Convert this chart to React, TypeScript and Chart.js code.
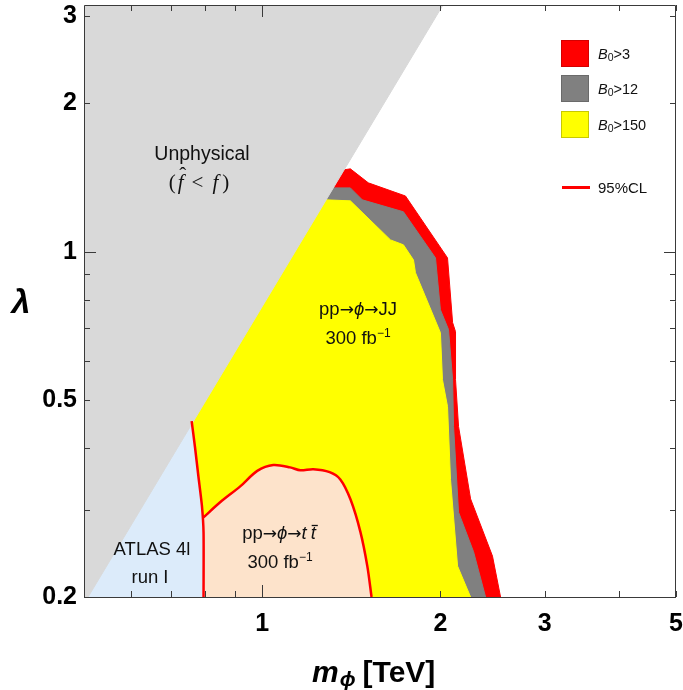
import React, { useEffect, useRef } from 'react';
import { Chart, registerables } from 'chart.js';

Chart.register(...registerables);

const SANS = '"Liberation Sans", Arial, Helvetica, sans-serif';
const ARROW = '"DejaVu Sans", "Liberation Sans", sans-serif';
const SERIF = '"Liberation Serif", "DejaVu Serif", serif';

// axis ranges and ticks
const xRange = [0.5, 5];
const yRange = [0.2, 3.16];
const xTicks = [0.6, 0.7, 0.8, 0.9, 1, 2, 3, 4, 5];
const xTickLabels = ['', '', '', '', '1', '2', '3', '', '5'];
const yTicks = [0.2, 0.3, 0.4, 0.5, 0.6, 0.7, 0.8, 0.9, 1, 2, 3];
const yTickLabels = ['0.2', '', '', '0.5', '', '', '', '', '1', '2', '3'];
const majorTicks = [1];

// unphysical region (f-hat < f)
const unphysX = [0.5, 0.508, 2.02, 0.5];
const unphysY = [0.2, 0.2, 3.16, 3.16];

// B0 > 3 region (red)
const b3X = [0.5, 2.527, 2.449, 2.249, 2.146, 2.121, 2.121, 2.097, 2.056, 1.746, 1.511, 1.409, 1.371, 0.5];
const b3Y = [0.2, 0.2, 0.242, 0.316, 0.443, 0.551, 0.689, 0.719, 0.972, 1.297, 1.379, 1.472, 1.465, 1.465];

// B0 > 12 region (gray)
const b12X = [0.5, 2.384, 2.275, 2.146, 2.105, 2.097, 2.064, 2.0, 1.962, 1.732, 1.476, 1.409, 1.318, 0.5];
const b12Y = [0.2, 0.2, 0.247, 0.297, 0.443, 0.551, 0.696, 0.763, 0.972, 1.205, 1.274, 1.347, 1.347, 1.347];

// B0 > 150 region (yellow)
const b150X = [0.5, 2.249, 2.138, 2.08, 2.056, 2.016, 2.0, 1.815, 1.801, 1.732, 1.647, 1.409, 1.282, 0.5];
const b150Y = [0.2, 0.2, 0.231, 0.346, 0.486, 0.551, 0.686, 0.907, 0.963, 1.033, 1.057, 1.268, 1.274, 1.274];

// ATLAS 4l run I 95% CL
const atlasX = [0.796, 0.796, 0.791, 0.78, 0.77, 0.76];
const atlasY = [0.2, 0.27, 0.306, 0.352, 0.402, 0.454];

// pp -> phi -> t tbar 95% CL
const ttX = [0.796, 0.849, 0.918, 0.981, 1.044, 1.115, 1.16, 1.22, 1.3, 1.355, 1.41, 1.465, 1.505, 1.53];
const ttY = [0.29, 0.311, 0.335, 0.36, 0.37, 0.366, 0.361, 0.363, 0.358, 0.346, 0.315, 0.271, 0.231, 0.2];

const pts = (xs: number[], ys: number[]) => xs.map((x, i) => ({ x, y: ys[i] }));

const fillDs = (label: string, data: { x: number; y: number }[], color: string, order: number) => ({
  label,
  data,
  showLine: true,
  fill: 'shape',
  backgroundColor: color,
  borderColor: color,
  borderWidth: 1,
  pointRadius: 0,
  tension: 0,
  order,
});

type Run = { t: string; f: string; dy?: number; gap?: number };

function drawRuns(ctx: CanvasRenderingContext2D, runs: Run[], x: number, y: number, align: 'left' | 'center') {
  let w = 0;
  for (const r of runs) {
    ctx.font = r.f;
    w += ctx.measureText(r.t).width + (r.gap || 0);
  }
  let cx = align === 'center' ? x - w / 2 : x;
  const pos: { x: number; w: number }[] = [];
  for (const r of runs) {
    ctx.font = r.f;
    const rw = ctx.measureText(r.t).width;
    ctx.fillText(r.t, cx, y + (r.dy || 0));
    pos.push({ x: cx, w: rw });
    cx += rw + (r.gap || 0);
  }
  return pos;
}

const decor = {
  id: 'decor',
  afterDraw(chart: any) {
    const { ctx, chartArea: a, scales } = chart;
    const xs = scales.x;
    const ys = scales.y;
    ctx.save();
    // frame
    ctx.strokeStyle = '#3a3a3a';
    ctx.lineWidth = 1;
    ctx.beginPath();
    ctx.rect(a.left + 0.5, a.top + 0.5, a.right - a.left - 1, a.bottom - a.top);
    ctx.stroke();
    // ticks (inward, all sides)
    ctx.beginPath();
    for (const v of xTicks) {
      const px = Math.round(xs.getPixelForValue(v)) + 0.5;
      const len = majorTicks.includes(v) ? 12 : 6;
      ctx.moveTo(px, a.bottom);
      ctx.lineTo(px, a.bottom - len);
      ctx.moveTo(px, a.top);
      ctx.lineTo(px, a.top + len);
    }
    for (const v of yTicks) {
      const py = Math.round(ys.getPixelForValue(v)) + 0.5;
      const len = majorTicks.includes(v) ? 12 : 6;
      ctx.moveTo(a.left, py);
      ctx.lineTo(a.left + len, py);
      ctx.moveTo(a.right, py);
      ctx.lineTo(a.right - len, py);
    }
    ctx.stroke();

    ctx.fillStyle = '#111';
    ctx.textBaseline = 'alphabetic';
    ctx.textAlign = 'left';

    // Unphysical label
    drawRuns(ctx, [{ t: 'Unphysical', f: `19.5px ${SANS}` }], 202, 160, 'center');
    const mf = `italic 21px ${SERIF}`;
    const mr = `21px ${SERIF}`;
    const p = drawRuns(
      ctx,
      [
        { t: '(', f: mr, gap: 2 },
        { t: 'f', f: mf, gap: 8 },
        { t: '<', f: mr, gap: 9 },
        { t: 'f', f: mf, gap: 4 },
        { t: ')', f: mr },
      ],
      199,
      189,
      'center'
    );
    // hat over first f
    ctx.font = mr;
    ctx.textAlign = 'center';
    ctx.fillText('ˆ', p[1].x + p[1].w / 2 + 2, 182);
    ctx.textAlign = 'left';

    const R = `18.5px ${SANS}`;
    const I = `italic 18.5px ${SANS}`;
    const A = `17px ${ARROW}`;
    const S = `12px ${SANS}`;
    drawRuns(
      ctx,
      [
        { t: 'pp', f: R },
        { t: '→', f: A },
        { t: 'ϕ', f: I },
        { t: '→', f: A },
        { t: 'JJ', f: R },
      ],
      358,
      315,
      'center'
    );
    drawRuns(ctx, [{ t: '300 fb', f: R }, { t: '−1', f: S, dy: -7 }], 358, 344, 'center');
    const q = drawRuns(
      ctx,
      [
        { t: 'pp', f: R },
        { t: '→', f: A },
        { t: 'ϕ', f: I },
        { t: '→', f: A },
        { t: 't', f: I, gap: 4 },
        { t: 't', f: I },
      ],
      279,
      539,
      'center'
    );
    ctx.strokeStyle = '#111';
    ctx.lineWidth = 1.3;
    ctx.beginPath();
    ctx.moveTo(q[5].x + 1, 525.5);
    ctx.lineTo(q[5].x + q[5].w + 2, 525.5);
    ctx.stroke();
    drawRuns(ctx, [{ t: '300 fb', f: R }, { t: '−1', f: S, dy: -7 }], 280, 568, 'center');
    drawRuns(ctx, [{ t: 'ATLAS 4l', f: R }], 152, 555, 'center');
    drawRuns(ctx, [{ t: 'run I', f: R }], 150, 583, 'center');

    // legend
    const boxes = [
      { y: 40, fill: '#ff0000', stroke: '#d40000', label: '>3', base: 59 },
      { y: 75, fill: '#808080', stroke: '#6a6a6a', label: '>12', base: 94 },
      { y: 111, fill: '#ffff00', stroke: '#c8c800', label: '>150', base: 130 },
    ];
    for (const b of boxes) {
      ctx.fillStyle = b.fill;
      ctx.fillRect(561, b.y, 28, 27);
      ctx.strokeStyle = b.stroke;
      ctx.lineWidth = 1;
      ctx.strokeRect(561.5, b.y + 0.5, 27, 26);
      ctx.fillStyle = '#111';
      drawRuns(
        ctx,
        [
          { t: 'B', f: `italic 14.5px ${SANS}` },
          { t: '0', f: `10.5px ${SANS}`, dy: 2 },
          { t: b.label, f: `14.5px ${SANS}` },
        ],
        598,
        b.base,
        'left'
      );
    }
    ctx.strokeStyle = '#ff0000';
    ctx.lineWidth = 3;
    ctx.beginPath();
    ctx.moveTo(562, 187.5);
    ctx.lineTo(590, 187.5);
    ctx.stroke();
    ctx.fillStyle = '#111';
    drawRuns(ctx, [{ t: '95%CL', f: `15px ${SANS}` }], 598, 193, 'left');

    // axis titles
    ctx.fillStyle = '#000';
    ctx.font = `italic bold 34px ${SANS}`;
    ctx.textAlign = 'center';
    ctx.fillText('λ', 21, 313);
    ctx.textAlign = 'left';
    drawRuns(
      ctx,
      [
        { t: 'm', f: `italic bold 30px ${SANS}`, gap: 1 },
        { t: 'ϕ', f: `italic bold 21px ${SANS}`, dy: 4, gap: 7 },
        { t: '[TeV]', f: `bold 30px ${SANS}` },
      ],
      312,
      682,
      'left'
    );
    ctx.restore();
  },
};

const findLabel = (vals: number[], labels: string[], v: number) => {
  const i = vals.findIndex((t) => Math.abs(t - v) < 1e-9);
  return i >= 0 ? labels[i] : '';
};

export default function App() {
  const ref = useRef<HTMLCanvasElement>(null);
  useEffect(() => {
    document.body.style.margin = '0';
    document.body.style.overflow = 'hidden';
    const tickFont = { family: SANS, size: 25, weight: 'bold' as const };
    const chart = new Chart(ref.current as HTMLCanvasElement, {
      type: 'scatter',
      data: {
        datasets: [
          {
            label: 'ATLAS 95%CL',
            data: pts(atlasX, atlasY),
            showLine: true,
            fill: false,
            borderColor: '#ff0000',
            borderWidth: 2.5,
            pointRadius: 0,
            tension: 0.2,
            order: 0,
          } as any,
          {
            label: 'ttbar 95%CL',
            data: pts(ttX, ttY),
            showLine: true,
            fill: false,
            borderColor: '#ff0000',
            borderWidth: 2.5,
            pointRadius: 0,
            tension: 0.3,
            order: 0,
          } as any,
          fillDs('Unphysical', pts(unphysX, unphysY), '#d9d9d9', 1) as any,
          fillDs('ttbar', [{ x: 0.796, y: 0.2 }, ...pts(ttX, ttY)], '#fde3cb', 2) as any,
          fillDs('ATLAS 4l', [{ x: 0.5, y: 0.2 }, ...pts(atlasX, atlasY), { x: 0.5, y: 0.454 }], '#dcebfa', 3) as any,
          fillDs('B0>150', pts(b150X, b150Y), '#ffff00', 4) as any,
          fillDs('B0>12', pts(b12X, b12Y), '#808080', 5) as any,
          fillDs('B0>3', pts(b3X, b3Y), '#ff0000', 6) as any,
        ],
      },
      options: {
        animation: false,
        responsive: false,
        devicePixelRatio: 1,
        layout: { padding: { top: 5, right: 7, left: 0, bottom: 0 } },
        plugins: { legend: { display: false }, tooltip: { enabled: false } },
        scales: {
          x: {
            type: 'logarithmic',
            min: xRange[0],
            max: xRange[1],
            afterBuildTicks: (s: any) => {
              s.ticks = xTicks.map((v) => ({ value: v }));
            },
            afterFit: (s: any) => {
              s.height = 93;
              s.paddingLeft = 0;
              s.paddingRight = 0;
            },
            grid: { display: false, drawTicks: false },
            border: { display: false },
            ticks: {
              autoSkip: false,
              maxRotation: 0,
              minRotation: 0,
              padding: 12,
              color: '#000',
              font: tickFont,
              callback: (v: any) => findLabel(xTicks, xTickLabels, Number(v)),
            },
          },
          y: {
            type: 'logarithmic',
            min: yRange[0],
            max: yRange[1],
            afterBuildTicks: (s: any) => {
              s.ticks = yTicks.map((v) => ({ value: v }));
            },
            afterFit: (s: any) => {
              s.width = 84;
              s.paddingTop = 0;
              s.paddingBottom = 0;
            },
            grid: { display: false, drawTicks: false },
            border: { display: false },
            ticks: {
              autoSkip: false,
              padding: 7,
              color: '#000',
              font: tickFont,
              callback: (v: any) => findLabel(yTicks, yTickLabels, Number(v)),
            },
          },
        },
      } as any,
      plugins: [decor],
    });
    return () => chart.destroy();
  }, []);
  return (
    <div style={{ width: 683, height: 690 }}>
      <canvas ref={ref} width={683} height={690} style={{ display: 'block' }} />
    </div>
  );
}
